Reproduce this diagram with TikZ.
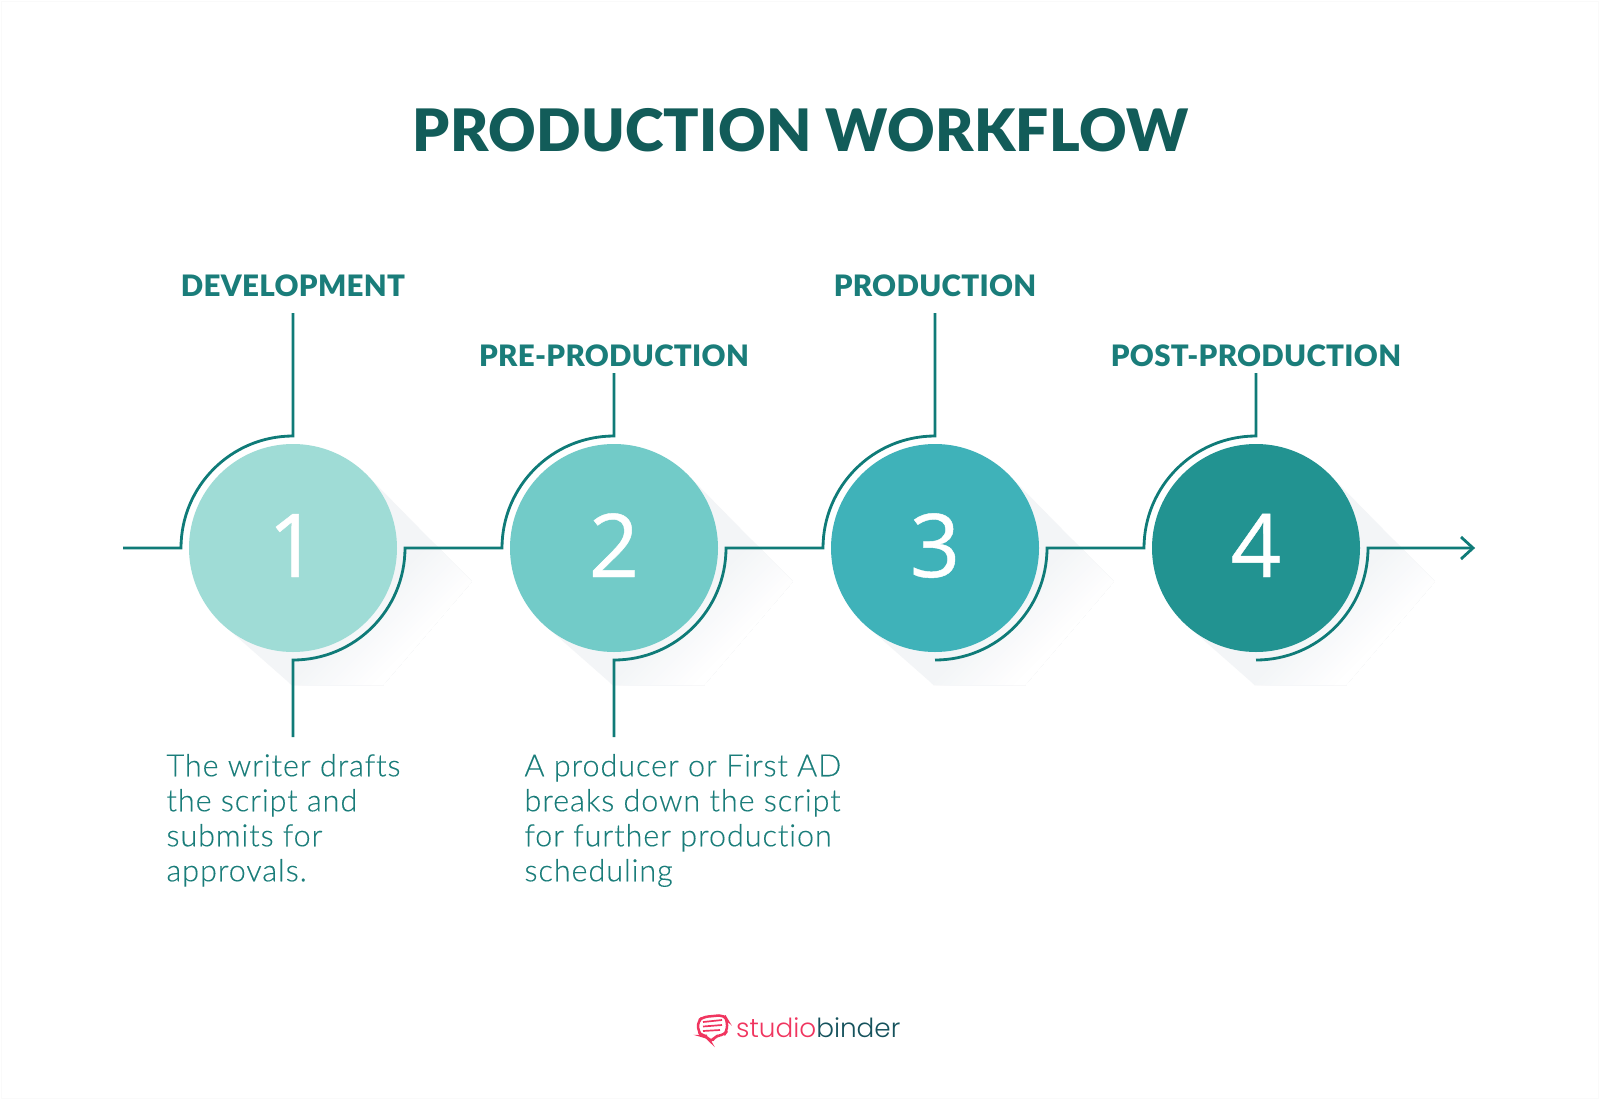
\documentclass[tikz,border=0pt]{standalone}
\usepackage{fontspec}
\setmainfont{Lato}
\newfontfamily\titlefont[LetterSpace=0.6]{Lato Black}
\newfontfamily\headfont[LetterSpace=1]{Lato Black}
\newfontfamily\bodyfont[LetterSpace=3,Ligatures={NoCommon},FakeBold=0.25]{Lato Light}
\newfontfamily\numfont[FakeBold=0.5]{Open Sans}
\newfontfamily\logofont{Poppins Light}
\definecolor{linec}{HTML}{0F7B78}
\definecolor{textc}{HTML}{1A7D7A}
\definecolor{titlec}{HTML}{125C59}
\definecolor{shadowc}{HTML}{F3F5F7}
\definecolor{framec}{HTML}{FAFAFA}
\definecolor{ca}{HTML}{9FDCD6}
\definecolor{cb}{HTML}{72CBC8}
\definecolor{cc}{HTML}{3FB2B9}
\definecolor{cd}{HTML}{229391}
\definecolor{pinkc}{HTML}{F0355F}
\definecolor{darkc}{HTML}{15525C}
\tikzset{
  x=1pt,y=-1pt,
  disc/.style={circle,minimum size=208pt,inner sep=0pt,outer sep=8pt,text=white,
     text height=58pt,text depth=0pt,font=\numfont\fontsize{88}{88}\selectfont},
  wire/.style={draw=linec,line width=2.8pt,line join=miter},
  head/.style={anchor=south,inner xsep=0pt,inner ysep=0pt,outer sep=0pt,text=textc,
     text height=40pt,font=\headfont\fontsize{29.5}{29.5}\selectfont},
  para/.style={anchor=north west,inner sep=0pt,outer sep=0pt,text=textc,align=left,
     font=\bodyfont\fontsize{30.6}{35}\selectfont},
}
\newcommand{\longshadow}[1]{%
  \begin{scope}
  \clip (#1+73.5,474.5) -- (#1+178.7,581.7) -- (#1+90,685) -- (#1-1.3,685) -- (#1-73.5,621.5) -- cycle;
  \fill[shadowc] (#1-100,440) rectangle (#1+200,700);
  \foreach \i in {0,...,20} {
    \pgfmathsetmacro{\pp}{92+\i*3}
    \pgfmathsetmacro{\mm}{100-5*\i}
    \fill[shadowc!\mm!white,shift={(#1,548)},rotate=-45] (\pp,-300) rectangle (320,300);
  }
  \end{scope}}
\begin{document}
\begin{tikzpicture}
\useasboundingbox (0,0) rectangle (1600,1100);
\fill[white] (0,0) rectangle (1600,1100);
\draw[framec,line width=1.5pt] (1.5,1.5) rectangle (1598.5,1098.5);
\longshadow{293}\longshadow{614}\longshadow{935}\longshadow{1256}
\node[disc,fill=ca] (c1) at (293,548) {1};
\node[disc,fill=cb] (c2) at (614,548) {2};
\node[disc,fill=cc] (c3) at (935,548) {3};
\node[disc,fill=cd] (c4) at (1256,548) {4};
\node[anchor=center,inner sep=0pt,text=titlec,font=\titlefont\fontsize{58.5}{58.5}\selectfont] (title) at (800.5,130) {PRODUCTION WORKFLOW};
\node[head,text depth=17pt] (h1) at (293,313) {DEVELOPMENT};
\node[head,text depth=7pt] (h2) at (614,373) {PRE-PRODUCTION};
\node[head,text depth=17pt] (h3) at (935,313) {PRODUCTION};
\node[head,text depth=7pt] (h4) at (1256,373) {POST-PRODUCTION};
\node[para] (p1) at (166.5,754) {The writer drafts\\the script and\\submits for\\approvals.};
\node[para] (p2) at (524.5,754) {A producer or First AD\\breaks down the script\\for further production\\scheduling};
\coordinate (start) at (123,548);
\coordinate (d1) at (293,737);
\coordinate (d2) at (614,737);
\coordinate (e3) at (935,660);
\coordinate (e4) at (1256,660);
\coordinate (tip) at (1473,548);
\draw[wire] (start) -- (c1.west) arc[start angle=180,end angle=90,radius=112pt] -- (h1.south);
\draw[wire] (d1) -- (c1.south) arc[start angle=270,end angle=360,radius=112pt] -- (c2.west) arc[start angle=180,end angle=90,radius=112pt] -- (h2.south);
\draw[wire] (d2) -- (c2.south) arc[start angle=270,end angle=360,radius=112pt] -- (c3.west) arc[start angle=180,end angle=90,radius=112pt] -- (h3.south);
\draw[wire] (e3) arc[start angle=270,end angle=360,radius=112pt] -- (c4.west) arc[start angle=180,end angle=90,radius=112pt] -- (h4.south);
\draw[wire] (e4) arc[start angle=270,end angle=360,radius=112pt] -- (tip);
\draw[wire] ([shift={(-12,-11)}]tip) -- (tip) -- ([shift={(-12,11)}]tip);
% logo
\draw[pinkc,line width=2.5pt,rounded corners=5pt,fill=white]
  (703,1017) -- (724,1015) -- (727,1020) -- (727,1031) -- (724,1035) -- (715,1036) -- (711,1043) -- (707,1036) -- (702,1036) -- (698,1031) -- (698,1021) -- cycle;
\draw[pinkc,line width=1.7pt] (703,1022) -- (722,1020) (703,1026.5) -- (722,1025) (703,1031) -- (720,1030);
\node[anchor=base west,inner sep=0pt,font=\logofont\fontsize{26.3}{26.3}\selectfont] (logo) at (736,1037) {\textcolor{pinkc}{studio}\textcolor{darkc}{binder}};
\end{tikzpicture}
\end{document}
